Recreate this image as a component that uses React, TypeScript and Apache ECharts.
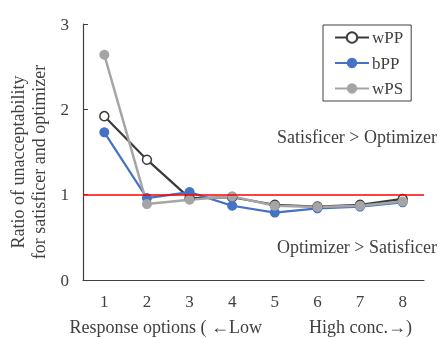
import React, { useEffect, useRef } from "react";
import * as echarts from "echarts";

const categories = ["1", "2", "3", "4", "5", "6", "7", "8"];
const wPP = [1.92, 1.41, 0.96, 0.97, 0.88, 0.86, 0.88, 0.95];
const bPP = [1.73, 0.96, 1.03, 0.87, 0.79, 0.84, 0.86, 0.91];
const wPS = [2.64, 0.89, 0.94, 0.98, 0.87, 0.855, 0.87, 0.92];
const refValue = 1;

const FONT = "Liberation Serif";
const TXT = "#404040";

export default function App() {
  const ref = useRef<HTMLDivElement>(null);
  useEffect(() => {
    const chart = echarts.init(ref.current!, undefined, { renderer: "svg" });
    chart.setOption({
      animation: false,
      textStyle: { fontFamily: FONT },
      grid: { left: 83, right: 14, top: 24, bottom: 58 },
      legend: {
        orient: "vertical",
        left: 323,
        top: 25,
        padding: [4, 8, 4, 11],
        itemGap: 8.5,
        itemWidth: 34,
        itemHeight: 13,
        borderColor: "#404040",
        borderWidth: 1,
        textStyle: { fontFamily: FONT, fontSize: 17, color: TXT, padding: [0, 0, 0, -2] },
        data: ["wPP", "bPP", "wPS"],
      },
      xAxis: {
        type: "category",
        data: categories,
        boundaryGap: true,
        axisLine: { lineStyle: { color: "#404040", width: 1.2 } },
        axisTick: { inside: true, length: 5, lineStyle: { color: "#404040" } },
        axisLabel: { fontFamily: FONT, fontSize: 17, color: TXT, margin: 13 },
      },
      yAxis: {
        type: "value",
        min: 0,
        max: 3,
        interval: 1,
        splitLine: { show: false },
        axisLine: { show: true, lineStyle: { color: "#404040", width: 1.2 } },
        axisTick: { show: true, inside: true, length: 5, lineStyle: { color: "#404040" } },
        axisLabel: { fontFamily: FONT, fontSize: 17, color: TXT, margin: 14 },
      },
      graphic: [
        {
          type: "text",
          x: 28,
          y: 162,
          rotation: Math.PI / 2,
          style: {
            text: "Ratio of unacceptability\nfor satisficer and optimizer",
            font: `18px ${FONT}`,
            fill: TXT,
            textAlign: "center",
            textVerticalAlign: "middle",
            lineHeight: 21,
          },
        },
        {
          type: "text",
          x: 262,
          y: 327,
          style: {
            text: "Response options ( \u2190Low",
            font: `18px ${FONT}`,
            fill: TXT,
            textAlign: "right",
            textVerticalAlign: "middle",
          },
        },
        {
          type: "text",
          x: 309,
          y: 327,
          style: {
            text: "High conc.\u2192)",
            font: `18px ${FONT}`,
            fill: TXT,
            textAlign: "left",
            textVerticalAlign: "middle",
          },
        },
        {
          type: "text",
          x: 437,
          y: 137,
          style: {
            text: "Satisficer > Optimizer",
            font: `18px ${FONT}`,
            fill: TXT,
            textAlign: "right",
            textVerticalAlign: "middle",
          },
        },
        {
          type: "text",
          x: 437,
          y: 247,
          style: {
            text: "Optimizer > Satisficer",
            font: `18px ${FONT}`,
            fill: TXT,
            textAlign: "right",
            textVerticalAlign: "middle",
          },
        },
      ],
      series: [
        {
          name: "wPP",
          type: "line",
          data: wPP,
          symbol: "circle",
          symbolSize: 9,
          lineStyle: { color: "#3a3a3a", width: 2.2 },
          itemStyle: { color: "#ffffff", borderColor: "#3a3a3a", borderWidth: 1.5 },
        },
        {
          name: "bPP",
          type: "line",
          data: bPP,
          symbol: "circle",
          symbolSize: 10,
          lineStyle: { color: "#4472C4", width: 2.2 },
          itemStyle: { color: "#4472C4" },
        },
        {
          name: "wPS",
          type: "line",
          data: wPS,
          symbol: "circle",
          symbolSize: 10,
          lineStyle: { color: "#A5A5A5", width: 2.5 },
          itemStyle: { color: "#A5A5A5" },
          markLine: {
            silent: true,
            symbol: "none",
            label: { show: false },
            lineStyle: { color: "#ff0000", width: 1.5, type: "solid" },
            data: [{ yAxis: refValue }],
            z: 10,
          },
        },
      ],
    });
    return () => chart.dispose();
  }, []);
  return (
    <div
      ref={ref}
      style={{ position: "fixed", left: 0, top: 0, width: 438, height: 338 }}
    />
  );
}
